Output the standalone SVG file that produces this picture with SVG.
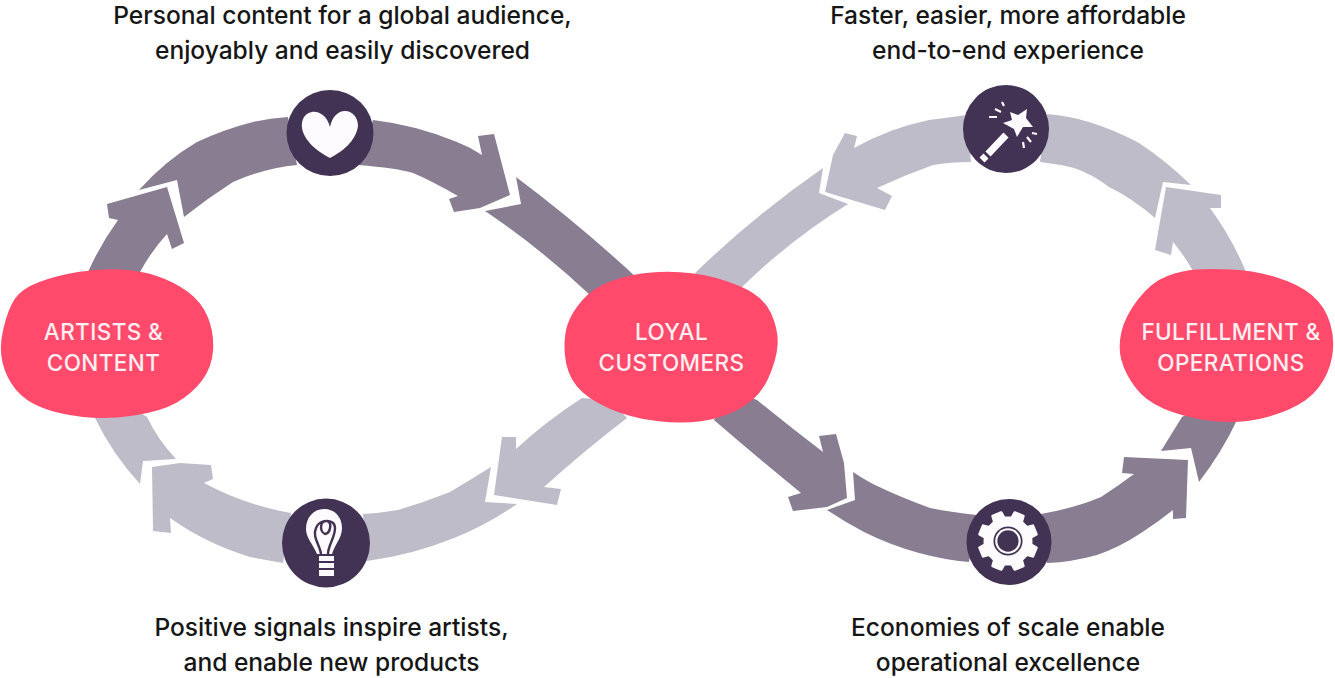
<svg xmlns="http://www.w3.org/2000/svg" width="1335" height="678" viewBox="0 0 1335 678">
<style>
.d{fill:#887d91}
.l{fill:#bfbcca}
.p{fill:#ff4a6b}
.c{fill:#423254}
.w{fill:#fdfbfd}
.cap{font-family:"Inter","Liberation Sans",sans-serif;font-size:24.55px;font-weight:500;fill:#161616;text-anchor:middle}
.lab{font-family:"Inter","Liberation Sans",sans-serif;font-size:22.5px;font-weight:500;fill:#fdeef1;text-anchor:middle;letter-spacing:.4px}
</style>
<rect width="1335" height="678" fill="#fff"/>
<g id="connectors">
<path class="d" d="M88 272Q100 245 118 220L109 218L107 204L167 187L184 243L172 249L167 234Q152 250 140 272Z"/>
<path class="d" d="M139 190L177 180L184 217Q208 198 233 182Q265 168 297 165L288 117Q270 118 253 122Q225 129 197 142Q166 160 139 190Z"/>
<path class="d" d="M373 120Q416 125 457 142Q470 147 482 155L478 136L494 134L510 195L480 208L454 212L449 199L458 196Q430 180 413 173Q397 168 358 165Z"/>
<path class="d" d="M516 177L521 204L485 211Q540 248 590 295L630 290L637 278Q580 225 516 177Z"/>
<path class="l" d="M823 168Q755 215 695 273L720 295L742 287Q790 240 848 204L819 193Z"/>
<path class="l" d="M845 133L857 136L854 148Q890 128 929 120L967 115L971 162Q950 162 933 165Q905 175 877 188L892 196L885 210L825 192L833 155Z"/>
<path class="l" d="M1047 114Q1070 116 1089 122Q1115 130 1139 143Q1165 160 1191 185L1163 182L1155 218Q1132 198 1109 187Q1092 174 1074 168Q1058 164 1040 162Z"/>
<path class="l" d="M1166 187L1221 195V208H1210Q1232 238 1246 272L1220 290L1193 271Q1184 255 1173 242L1171 255L1155 250Z"/>
<path class="l" d="M582 398Q545 422 516 449V437H502L494 495L557 505L561 489L544 487Q585 450 627 418L610 400Z"/>
<path class="l" d="M491 467L485 502L517 504Q487 525 454 538Q412 555 367 561L363 514Q380 513 398 510Q425 502 450 492Q470 480 491 467Z"/>
<path class="l" d="M291 513Q245 505 204 483L213 479L211 465L180 463L152 467L153 531L171 533L170 518Q205 543 250 557Q265 560 283 563Z"/>
<path class="l" d="M95 418Q113 455 140 484L143 461L176 459Q158 440 147 417L120 400Z"/>
<path class="d" d="M714 420Q758 458 801 493L788 497L793 511L827 507L847 498L844 463L836 434L819 436L823 452Q790 427 757 400L730 390Z"/>
<path class="d" d="M853 472L855 500L827 510Q845 522 864 532Q890 545 919 553Q945 560 969 562L977 515Q950 512 930 508Q900 497 875 485Q865 480 853 472Z"/>
<path class="d" d="M1041 514Q1075 508 1101 497Q1118 486 1134 474L1122 473L1124 457L1188 460L1186 518L1173 519V510Q1158 522 1141 533Q1120 547 1097 555Q1072 562 1047 563Z"/>
<path class="d" d="M1182 417L1161 451L1191 448L1199 482Q1222 452 1237 420L1210 400Z"/>
</g>
<g id="artists-content">
<path class="p" transform="translate(107 344) scale(1.02) translate(-107 -344)" d="M120 271Q140 272 156.5 277.5Q173 283 186.5 293Q200 303 206 318Q212 333 211 350Q210 367 200 380Q190 393 175 401.5Q160 410 133.5 414Q107 418 83.5 415.5Q60 413 43.5 406.5Q27 400 17.5 388.5Q8 377 4.5 362Q1 347 5.5 328.5Q10 310 16.5 300Q23 290 40 283.5Q57 277 78.5 273.5Q100 270 120 271Z"/>
<text class="lab" x="103.5" y="340">ARTISTS &amp;</text>
<text class="lab" x="103.5" y="371">CONTENT</text>
</g>
<g id="loyal-customers">
<path class="p" transform="translate(671 348) scale(1.015) translate(-671 -348)" d="M693.5 274.5Q715 277 738.5 287Q762 297 769.5 313.5Q777 330 776 345Q775 360 766.5 378.5Q758 397 740 407Q722 417 702 420Q682 423 657 420Q632 417 610 407.5Q588 398 578 385.5Q568 373 566.5 355Q565 337 569 325Q573 313 584 300.5Q595 288 613.5 281.5Q632 275 652 273.5Q672 272 693.5 274.5Z"/>
<text class="lab" x="671.5" y="340">LOYAL</text>
<text class="lab" x="671.5" y="371">CUSTOMERS</text>
</g>
<g id="fulfillment-operations">
<path class="p" transform="translate(1226 345) scale(1.02) translate(-1226 -345)" d="M1231.5 271Q1253 272 1275 278.5Q1297 285 1310 296Q1323 307 1328 323.5Q1333 340 1330 356.5Q1327 373 1317 386.5Q1307 400 1287 408.5Q1267 417 1247 419.5Q1227 422 1205 418.5Q1183 415 1165 407.5Q1147 400 1137 386.5Q1127 373 1123.5 360Q1120 347 1123.5 332Q1127 317 1140 300Q1153 283 1168 277.5Q1183 272 1196.5 271Q1210 270 1231.5 271Z"/>
<text class="lab" x="1231" y="340">FULFILLMENT &amp;</text>
<text class="lab" x="1231" y="371">OPERATIONS</text>
</g>
<g id="heart">
<ellipse class="c" cx="330" cy="133" rx="43.5" ry="43"/>
<path class="w" d="M330 127C327 115 318 111 312 112C304 113 301 121 302 128C304 141 318 152 330 158C342 152 356 141 358 126C358 118 353 111 345 111C338 111 332 117 330 127Z"/>
</g>
<g id="wand">
<ellipse class="c" cx="1006" cy="129" rx="43" ry="44"/>
<path class="w" d="M1010 112L1018 115L1027 109L1026 118L1033 127L1023 127L1017 137L1014 129L1003 123L1012 120Z"/>
<path d="M1006 135L988 154" stroke="#fdfbfd" stroke-width="7" fill="none"/>
<path d="M986 156L982 160" stroke="#fdfbfd" stroke-width="7" fill="none"/>
<path d="M1002 102L1004 106M995 109L1001 112M989 117L997 117M1032 133L1037 134M1027 137L1031 142M1023 142L1024 148" stroke="#fdfbfd" stroke-width="2.2" fill="none"/>
</g>
<g id="bulb">
<ellipse class="c" cx="326" cy="543" rx="44" ry="44.5"/>
<path class="w" d="M324 509C313 509 306 518 306 529C306 538 313 544 317 554H332C335 544 342 538 342 528C342 517 335 509 324 509Z"/>
<path d="M321 554C320 545 312 537 316 528C319 519 335 518 335 528C335 538 328 545 328 554M325 534C319 531 320 520 327 521C332 522 331 533 325 534Z" fill="none" stroke="#423254" stroke-width="2.4"/>
<path class="w" d="M319 556H334V561H319ZM319 563H334V568H319ZM319 570H334V576H319Z"/>
</g>
<g id="gear">
<ellipse class="c" cx="1009" cy="542" rx="42.5" ry="43"/>
<g transform="translate(1008 541) scale(.97)">
<polygon class="w" stroke="#fdfbfd" stroke-width="3" stroke-linejoin="round" points="23.7,4 29.2,7 25.6,15.7 19.5,13.9 13.9,19.5 15.7,25.6 7,29.2 4,23.7 -4,23.7 -7,29.2 -15.7,25.6 -13.9,19.5 -19.5,13.9 -25.6,15.7 -29.2,7 -23.7,4 -23.7,-4 -29.2,-7 -25.6,-15.7 -19.5,-13.9 -13.9,-19.5 -15.7,-25.6 -7,-29.2 -4,-23.7 4,-23.7 7,-29.2 15.7,-25.6 13.9,-19.5 19.5,-13.9 25.6,-15.7 29.2,-7 23.7,-4"/>
<circle class="c" r="15"/>
<circle class="w" r="13.2"/>
<circle class="c" r="11"/>
</g>
</g>
<g id="captions">
<text class="cap" x="342.5" y="24">Personal content for a global audience,</text>
<text class="cap" x="342.5" y="59">enjoyably and easily discovered</text>
<text class="cap" x="1008" y="24">Faster, easier, more affordable</text>
<text class="cap" x="1008" y="59">end-to-end experience</text>
<text class="cap" x="331.5" y="636">Positive signals inspire artists,</text>
<text class="cap" x="331.5" y="671">and enable new products</text>
<text class="cap" x="1008" y="636">Economies of scale enable</text>
<text class="cap" x="1008" y="671">operational excellence</text>
</g>
</svg>
